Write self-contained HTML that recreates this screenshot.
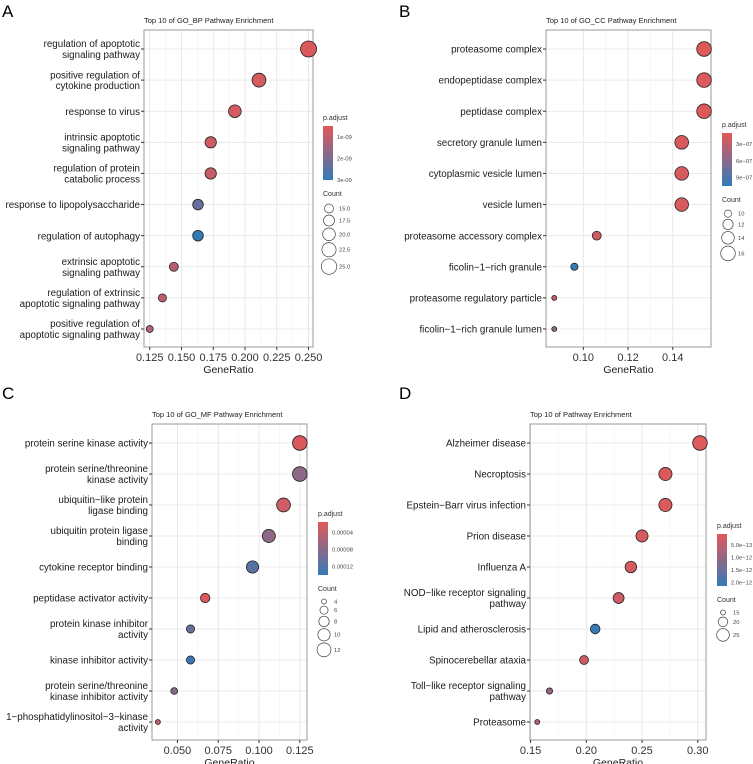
<!DOCTYPE html>
<html><head><meta charset="utf-8"><style>
body{margin:0;background:#fff;}
svg{display:block;font-family:"Liberation Sans",Arial,sans-serif;}
</style></head><body>
<svg id="fig" width="753" height="764" viewBox="0 0 753 764"></svg>
<script>
// ---- Panel A data ----
const aCats=["regulation of apoptotic|signaling pathway","positive regulation of|cytokine production","response to virus","intrinsic apoptotic|signaling pathway","regulation of protein|catabolic process","response to lipopolysaccharide","regulation of autophagy","extrinsic apoptotic|signaling pathway","regulation of extrinsic|apoptotic signaling pathway","positive regulation of|apoptotic signaling pathway"];
const aRatio=[0.250,0.211,0.192,0.173,0.173,0.163,0.163,0.144,0.135,0.125];
const aCount=[26,22,20,18,18,17,17,15,14,13];
const aPadj=[6e-10,7e-10,7e-10,8e-10,9e-10,2.3e-9,3.0e-9,1.1e-9,1.0e-9,1.2e-9];
const aTicks=[0.125,0.150,0.175,0.200,0.225,0.250];
const aTickLabels=["0.125","0.150","0.175","0.200","0.225","0.250"];
const aColTicks=[1e-9,2e-9,3e-9];const aColLabels=["1e-09","2e-09","3e-09"];
const aSizeTicks=[15,17.5,20,22.5,25];const aSizeLabels=["15.0","17.5","20.0","22.5","25.0"];
// ---- Panel B data ----
const bCats=["proteasome complex","endopeptidase complex","peptidase complex","secretory granule lumen","cytoplasmic vesicle lumen","vesicle lumen","proteasome accessory complex","ficolin\u22121\u2212rich granule","proteasome regulatory particle","ficolin\u22121\u2212rich granule lumen"];
const bRatio=[0.154,0.154,0.154,0.144,0.144,0.144,0.106,0.096,0.087,0.087];
const bCount=[16,16,16,15,15,15,11,10,9,9];
const bPadj=[1.2e-7,1.2e-7,1.3e-7,1.5e-7,1.6e-7,1.7e-7,2e-7,1.05e-6,2.5e-7,5.5e-7];
const bTicks=[0.10,0.12,0.14];const bTickLabels=["0.10","0.12","0.14"];
const bColTicks=[3e-7,6e-7,9e-7];const bColLabels=["3e\u221207","6e\u221207","9e\u221207"];
const bSizeTicks=[10,12,14,16];const bSizeLabels=["10","12","14","16"];
// ---- Panel C data ----
const cCats=["protein serine kinase activity","protein serine/threonine|kinase activity","ubiquitin\u2212like protein|ligase binding","ubiquitin protein ligase|binding","cytokine receptor binding","peptidase activator activity","protein kinase inhibitor|activity","kinase inhibitor activity","protein serine/threonine|kinase inhibitor activity","1\u2212phosphatidylinositol\u22123\u2212kinase|activity"];
const cRatio=[0.125,0.125,0.115,0.106,0.096,0.067,0.058,0.058,0.048,0.038];
const cCount=[13,13,12,11,10,7,6,6,5,4];
const cPadj=[2.2e-5,7.5e-5,3e-5,7.5e-5,1.15e-4,2e-5,1.05e-4,1.35e-4,8e-5,4e-5];
const cTicks=[0.050,0.075,0.100,0.125];const cTickLabels=["0.050","0.075","0.100","0.125"];
const cColTicks=[4e-5,8e-5,1.2e-4];const cColLabels=["0.00004","0.00008","0.00012"];
const cSizeTicks=[4,6,8,10,12];const cSizeLabels=["4","6","8","10","12"];
// ---- Panel D data ----
const dCats=["Alzheimer disease","Necroptosis","Epstein\u2212Barr virus infection","Prion disease","Influenza A","NOD\u2212like receptor signaling|pathway","Lipid and atherosclerosis","Spinocerebellar ataxia","Toll\u2212like receptor signaling|pathway","Proteasome"];
const dRatio=[0.302,0.271,0.271,0.250,0.240,0.229,0.208,0.198,0.167,0.156];
const dCount=[29,26,26,24,23,22,20,19,16,15];
const dPadj=[1e-13,1.2e-13,1.5e-13,2e-13,2e-13,3e-13,2.1e-12,3e-13,1.0e-12,6e-13];
const dTicks=[0.15,0.20,0.25,0.30];const dTickLabels=["0.15","0.20","0.25","0.30"];
const dColTicks=[5e-13,1e-12,1.5e-12,2e-12];const dColLabels=["5.0e\u221213","1.0e\u221212","1.5e\u221212","2.0e\u221212"];
const dSizeTicks=[15,20,25];const dSizeLabels=["15","20","25"];

const NS="http://www.w3.org/2000/svg";
const svg=document.getElementById('fig');
function mk(tag,attrs,parent,text){const e=document.createElementNS(NS,tag);for(const k in attrs)e.setAttribute(k,attrs[k]);if(text!==undefined)e.textContent=text;(parent||svg).appendChild(e);return e;}
const RED=[226,88,88],BLUE=[52,122,185];
function colorAt(t){t=Math.max(0,Math.min(1,t));const c=RED.map((v,i)=>Math.round(v+(BLUE[i]-v)*t));return `rgb(${c[0]},${c[1]},${c[2]})`;}

function panel(p){
  const g=mk('g',{});
  
  
  const L=mk('text',{x:p.lx,y:p.ly,'font-size':17,fill:'#000'},g,p.letter);
  
  const T=mk('text',{x:p.x0,y:p.y0-7,'font-size':7.5,fill:'#222'},g,p.title);
  
  const xs=v=>p.x0+(v-p.xmin)/(p.xmax-p.xmin)*(p.x1-p.x0);
  const n=p.cats.length,step=(p.ry1-p.ry0)/(n-1);
  const ys=i=>p.ry0+i*step;
  for(let i=0;i<p.ticks.length-1;i++){const m=(p.ticks[i]+p.ticks[i+1])/2;mk('line',{x1:xs(m),x2:xs(m),y1:p.y0,y2:p.y1,stroke:'#f2f2f2','stroke-width':0.6},g);}
  p.ticks.forEach(t=>mk('line',{x1:xs(t),x2:xs(t),y1:p.y0,y2:p.y1,stroke:'#e4e4e4','stroke-width':0.8},g));
  p.cats.forEach((c,i)=>mk('line',{x1:p.x0,x2:p.x1,y1:ys(i),y2:ys(i),stroke:'#e4e4e4','stroke-width':0.8},g));
  const box=mk('rect',{x:p.x0,y:p.y0,width:p.x1-p.x0,height:p.y1-p.y0,fill:'none',stroke:'#999','stroke-width':1},g);
  
  p.ticks.forEach((t,i)=>{mk('line',{x1:xs(t),x2:xs(t),y1:p.y1,y2:p.y1+3,stroke:'#333'},g);
    const tl=mk('text',{x:xs(t),y:p.y1+14,'font-size':11,'text-anchor':'middle',fill:'#333'},g,p.tickLabels[i]);
    });
  const xt=mk('text',{x:(p.x0+p.x1)/2,y:p.y1+26,'font-size':10.5,'text-anchor':'middle',fill:'#222'},g,'GeneRatio');
  
  p.cats.forEach((c,i)=>{const lines=c.split('|');mk('line',{x1:p.x0-3,x2:p.x0,y1:ys(i),y2:ys(i),stroke:'#333'},g);
    lines.forEach((ln,j)=>{const yy=ys(i)+3.6+(j-(lines.length-1)/2)*10.8;
      const yl=mk('text',{x:p.x0-4,y:yy,'font-size':9.8,'text-anchor':'end',fill:'#1a1a1a'},g,ln);
      });});
  const cmin=Math.min(...p.count),cmax=Math.max(...p.count);
  const rs=c=>Math.sqrt(p.rmin*p.rmin+(c-cmin)/(cmax-cmin||1)*(p.rmax*p.rmax-p.rmin*p.rmin));
  const ct=v=>(v-p.pmin)/(p.pmax-p.pmin);
  p.ratio.forEach((r,i)=>{const d=mk('circle',{cx:xs(r),cy:ys(i),r:rs(p.count[i]),fill:colorAt(ct(p.padj[i])),stroke:'#222','stroke-width':0.8},g);
    });
  const lg=p.legX,ly=p.legY;
  mk('text',{x:lg,y:ly,'font-size':7,fill:'#333'},g,'p.adjust');
  const gid='grad'+p.letter;const defs=mk('defs',{},g);const gr=mk('linearGradient',{id:gid,x1:0,y1:0,x2:0,y2:1},defs);
  mk('stop',{offset:'0%','stop-color':colorAt(0)},gr);mk('stop',{offset:'50%','stop-color':colorAt(0.5)},gr);mk('stop',{offset:'100%','stop-color':colorAt(1)},gr);
  const bh=p.barH;const bar=mk('rect',{x:lg,y:ly+6,width:10,height:bh,fill:`url(#${gid})`},g);
  
  p.colTicks.forEach((t,i)=>{const yy=ly+6+ct(t)*bh;mk('line',{x1:lg+10,x2:lg+12,y1:yy,y2:yy,stroke:'#fff'},g);
    mk('text',{x:lg+14,y:yy+2,'font-size':5.8,fill:'#444'},g,p.colLabels[i]);});
  const sy=ly+6+bh+22;
  mk('text',{x:lg,y:sy-6,'font-size':7,fill:'#333'},g,'Count');
  let cy=sy+2;
  p.sizeTicks.forEach((s,i)=>{const r=rs(s);cy+=(i===0?r:r+(r>4?1:0));
    const c=mk('circle',{cx:lg+6,cy:cy,r:r,fill:'none',stroke:'#444','stroke-width':0.7},g);
    
    mk('text',{x:lg+16,y:cy+2,'font-size':5.8,fill:'#444'},g,p.sizeLabels[i]);cy+=r+1;});
}
panel({letter:'A',lx:2,ly:17,title:'Top 10 of GO_BP Pathway Enrichment',x0:144,x1:313,y0:30,y1:347,ry0:49,ry1:329,xmin:0.1205,xmax:0.2535,cats:aCats,ratio:aRatio,count:aCount,padj:aPadj,ticks:aTicks,tickLabels:aTickLabels,rmin:3.5,rmax:8,pmin:5e-10,pmax:3e-9,legX:323,legY:120,barH:54,colTicks:aColTicks,colLabels:aColLabels,sizeTicks:aSizeTicks,sizeLabels:aSizeLabels});
panel({letter:'B',lx:399,ly:17,title:'Top 10 of GO_CC Pathway Enrichment',x0:546,x1:711,y0:30,y1:347,ry0:49,ry1:329,xmin:0.0833,xmax:0.1571,cats:bCats,ratio:bRatio,count:bCount,padj:bPadj,ticks:bTicks,tickLabels:bTickLabels,rmin:2.5,rmax:7.3,pmin:1e-7,pmax:1.05e-6,legX:722,legY:127,barH:53,colTicks:bColTicks,colLabels:bColLabels,sizeTicks:bSizeTicks,sizeLabels:bSizeLabels});
panel({letter:'C',lx:2,ly:399,title:'Top 10 of GO_MF Pathway Enrichment',x0:152,x1:307,y0:424,y1:740,ry0:443,ry1:722,xmin:0.0344,xmax:0.1294,cats:cCats,ratio:cRatio,count:cCount,padj:cPadj,ticks:cTicks,tickLabels:cTickLabels,rmin:2.5,rmax:7.3,pmin:1.5e-5,pmax:1.4e-4,legX:318,legY:516,barH:53,colTicks:cColTicks,colLabels:cColLabels,sizeTicks:cSizeTicks,sizeLabels:cSizeLabels});
panel({letter:'D',lx:399,ly:399,title:'Top 10 of Pathway Enrichment',x0:530,x1:706,y0:424,y1:740,ry0:443,ry1:722,xmin:0.1495,xmax:0.3074,cats:dCats,ratio:dRatio,count:dCount,padj:dPadj,ticks:dTicks,tickLabels:dTickLabels,rmin:2.5,rmax:7.3,pmin:5e-14,pmax:2.15e-12,legX:717,legY:528,barH:52,colTicks:dColTicks,colLabels:dColLabels,sizeTicks:dSizeTicks,sizeLabels:dSizeLabels});
</script>
</body></html>
